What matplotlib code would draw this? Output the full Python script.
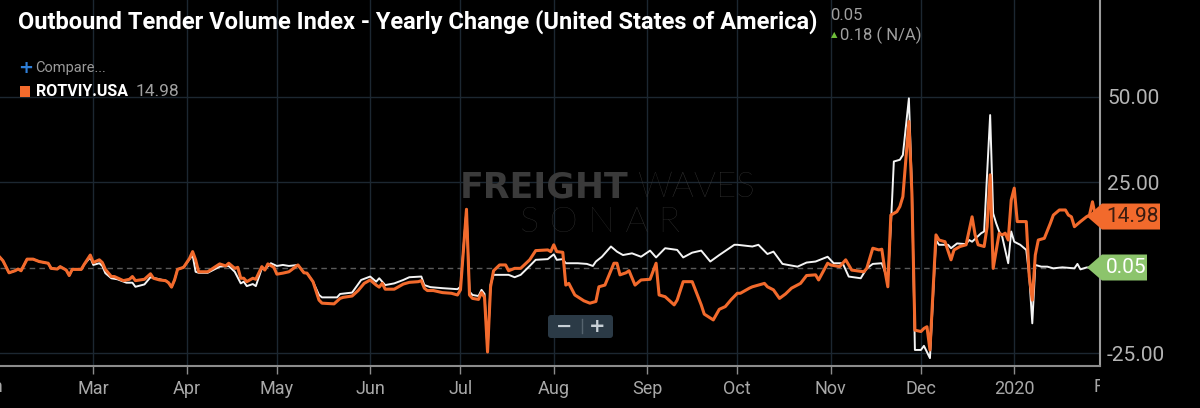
import pandas as pd
import matplotlib
matplotlib.use("Agg")
import matplotlib.pyplot as plt
from matplotlib.patches import Polygon, FancyBboxPatch
from matplotlib.transforms import IdentityTransform, Bbox, TransformedBbox

W, H = 1200, 408

title = "Outbound Tender Volume Index - Yearly Change (United States of America)"
ticker = "ROTVIY.USA"
start = pd.Timestamp("2019-01-29")

# ROTVIY.USA (orange): days after start, value
orange_days = [0, 1, 3, 5, 6, 7, 9, 11, 13, 16, 17, 19, 20, 22, 23, 24, 27, 28, 30, 31,
               33, 34, 35, 37, 38, 41, 43, 44, 45, 48, 50, 51, 53, 55, 56, 57, 58, 59, 61, 63,
               64, 65, 66, 69, 73, 75, 76, 78, 79, 80, 81, 82, 84, 85, 87, 88, 89, 91, 92, 94,
               96, 99, 101, 102, 104, 106, 107, 111, 113, 114, 117, 119, 121, 123, 125, 126, 127, 128, 131, 134,
               136, 139, 140, 141, 142, 144, 147, 150, 152, 153, 155, 156, 157, 159, 160, 161, 162, 163, 164, 166,
               168, 169, 171, 173, 176, 178, 182, 183, 184, 185, 187, 188, 189, 191, 194, 196, 198, 199, 201, 204,
               205, 206, 208, 209, 211, 213, 216, 218, 219, 221, 224, 225, 227, 230, 233, 234, 237, 239, 241, 243,
               245, 246, 249, 250, 254, 255, 257, 259, 261, 263, 266, 268, 271, 272, 275, 276, 279, 281, 283, 287,
               288, 290, 292, 293, 294, 295, 296, 298, 299, 300, 302, 303, 304, 306, 307, 308, 309, 311, 312, 314,
               316, 317, 319, 321, 323, 324, 325, 327, 328, 329, 330, 332, 333, 334, 335, 336, 337, 338, 341, 342,
               343, 344, 345, 347, 349, 350, 352, 354, 355, 356, 357, 359, 361, 362, 363, 364]
orange_vals = [3.0, 2.0, -1.5, -0.9, -0.4, -0.9, 2.5, 2.5, 1.8, 1.3, -0.2, -0.4, 0.3, -0.7, -2.3, -0.5, -0.5, 1.0, 3.7, 1.5,
               2.3, 1.5, -0.5, -2.6, -2.6, -3.8, -3.4, -2.6, -3.8, -3.4, -1.8, -3.1, -3.6, -3.8, -4.4, -5.7, -3.6, -0.5, 0.1, 2.75,
               4.7, 2.3, -1.2, -1.2, 1.1, 0.5, 1.3, -0.2, 0.1, -3.1, -3.1, -4.1, -3.1, -3.4, 0.3, -0.7, 1.1, 0.1, -1.9, -1.6,
               -1.2, 0.8, -1.5, -1.6, -4.1, -9.5, -10.4, -10.6, -9.0, -8.7, -8.3, -6.7, -4.6, -3.6, -5.1, -5.7, -4.6, -6.3, -6.3, -4.8,
               -4.3, -4.1, -3.8, -6.0, -6.7, -6.7, -7.3, -7.5, -8.0, -6.5, 17.1, -8.0, -9.0, -9.3, -7.3, -8.7, -24.7, -5.6, -0.9, 0.8,
               0.8, -0.9, -0.2, -0.2, 2.3, 5.0, 5.2, 4.7, 6.7, 4.7, 4.5, -5.1, -4.6, -8.0, -9.7, -10.4, -9.9, -5.6, -5.1, 1.3,
               1.3, -2.1, -1.5, -0.9, -5.1, -3.6, -3.4, 1.3, -8.0, -8.5, -10.9, -9.5, -4.1, -4.1, -10.9, -13.6, -15.3, -12.2, -11.4, -9.3,
               -7.5, -7.5, -6.0, -5.6, -4.6, -5.6, -6.5, -9.0, -7.7, -6.0, -4.6, -2.3, -2.1, -3.6, 1.3, 0.8, 0.3, 2.3, -0.7, -1.2,
               -0.2, 5.7, 5.2, 5.4, -0.7, -5.6, 15.4, 16.4, 17.9, 20.8, 42.8, 21.8, -18.3, -18.7, -17.8, -17.3, -24.1, 9.6, 8.1, 7.6,
               2.3, 5.2, 6.2, 6.7, 14.9, 9.6, 6.7, 6.2, 12.0, 27.2, -0.2, 10.1, 9.6, 10.1, 8.1, 19.8, 23.3, 13.5, 13.5, -2.6,
               -9.5, 3.7, 8.1, 8.6, 13.0, 15.4, 16.9, 16.9, 15.4, 14.9, 12.0, 13.5, 14.9, 15.4, 19.3, 14.98]

# second series (white)
white_days = [0, 1, 3, 5, 6, 7, 9, 11, 13, 16, 17, 19, 20, 22, 23, 24, 27, 28, 30, 31,
              33, 34, 35, 37, 39, 42, 44, 45, 48, 50, 53, 55, 56, 57, 58, 59, 61, 63, 64, 65,
              66, 69, 73, 76, 78, 80, 81, 82, 84, 85, 87, 88, 90, 92, 94, 96, 99, 101, 102, 104,
              106, 107, 112, 113, 117, 120, 123, 125, 126, 128, 131, 134, 136, 140, 141, 143, 147, 152, 153, 155,
              156, 157, 159, 160, 161, 162, 163, 164, 169, 171, 173, 176, 178, 182, 184, 185, 187, 188, 192, 195,
              197, 198, 200, 203, 205, 207, 210, 213, 216, 218, 221, 225, 227, 230, 233, 236, 239, 244, 245, 250,
              252, 255, 257, 260, 265, 268, 271, 275, 277, 280, 282, 286, 288, 290, 293, 295, 296, 297, 299, 300,
              302, 303, 304, 306, 307, 309, 311, 312, 315, 316, 318, 321, 322, 323, 326, 327, 329, 330, 331, 332,
              333, 335, 336, 337, 339, 341, 342, 343, 344, 346, 348, 350, 353, 357, 358, 359, 361, 364]
white_vals = [3.0, 2.0, -1.5, -0.9, -0.4, -0.9, 2.5, 2.5, 1.8, 1.3, -0.2, -0.4, 0.3, -0.7, -2.3, -0.5, -0.5, 1.0, 3.0, 0.8,
              1.3, 0.5, -1.6, -3.1, -3.4, -4.4, -4.4, -5.6, -4.9, -2.8, -3.4, -3.8, -4.4, -5.7, -3.6, -0.5, 0.1, 2.5, 3.7, -1.2,
              -1.5, -1.5, 0.3, 0.5, -1.2, -4.6, -4.1, -5.4, -4.8, -5.4, -0.2, -0.5, 1.3, 0.5, 0.8, 0.5, 0.8, -1.5, -1.6, -4.1,
              -8.0, -8.7, -8.7, -7.7, -7.3, -3.6, -2.6, -4.1, -3.1, -5.1, -4.6, -3.6, -2.8, -2.6, -5.1, -5.7, -6.0, -6.3, -5.6, 17.1,
              -7.0, -8.0, -8.3, -6.5, -7.7, -24.5, -5.0, -2.1, -2.1, -2.8, -2.1, 0.5, 2.3, 2.5, 3.9, 2.3, 2.5, 1.3, 1.3, 1.1,
              0.5, 1.8, 3.2, 6.2, 4.7, 3.7, 4.2, 3.2, 5.0, 3.0, 5.7, 5.2, 3.0, 4.4, 5.0, 1.8, 3.7, 6.7, 6.7, 6.2,
              6.7, 4.0, 4.7, 1.1, 0.3, 1.5, 1.8, 3.2, 1.3, 1.3, -2.6, -3.1, -0.2, 1.1, 1.3, -3.6, 12.0, 31.1, 31.6, 33.0,
              49.6, 23.7, -24.1, -24.1, -22.9, -26.5, 8.1, 6.7, 6.7, 5.7, 7.1, 6.9, 8.1, 7.6, 10.1, 10.6, 44.7, 15.9, 13.0, 10.6,
              9.1, 1.3, 10.6, 7.6, 6.7, 5.2, -2.6, -16.3, 0.8, 0.3, 0.3, -0.2, 0.1, -0.2, 1.1, -0.5, 0.05, 0.05]

month_ticks = pd.date_range("2019-03-01", "2020-01-01", freq="MS")
month_labels = ["Mar", "Apr", "May", "Jun", "Jul", "Aug", "Sep", "Oct", "Nov", "Dec", "2020"]
y_ticks = [-25, 25, 50]
last_orange = 14.98
last_white = 0.05
change = 0.18

ORANGE = "#f26a2c"
GREEN = "#8cc46c"
GREY = "#a8a8a8"
GRID = "#1c2731"


def fx(x):
    return x / W


def fy(y):
    return 1 - y / H


fig = plt.figure(figsize=(W / 100, H / 100), dpi=100, facecolor="black")
ax = fig.add_axes([0, 42 / H, 1100 / W, 366 / H])
ax.set_facecolor("black")
ax.set_axisbelow(True)

od = start + pd.to_timedelta(orange_days, unit="D")
wd = start + pd.to_timedelta(white_days, unit="D")
ax.plot(wd, white_vals, color="#f4f4f4", lw=1.4, zorder=3)
ax.plot(od, orange_vals, color=ORANGE, lw=2.2, zorder=4)
ax.axhline(last_white, color="#5a5a5a", lw=1.0, ls=(0, (4, 3)), zorder=2)

ax.set_xlim(start, start + pd.Timedelta(days=365.5))
ax.set_ylim(-28.8, 78.4)

ax.grid(True, color=GRID, lw=1.0)
for s in ["top", "left"]:
    ax.spines[s].set_visible(False)
ax.spines["bottom"].set_color("#8c8c8c")
ax.spines["bottom"].set_linewidth(1.5)
ax.spines["right"].set_color("#9c9c9c")
ax.spines["right"].set_linewidth(1.5)

ax.set_xticks(month_ticks)
ax.set_xticklabels(month_labels, family="Roboto")
ax.tick_params(axis="x", length=6, width=1, color="#8c8c8c", labelcolor=GREY,
               labelsize=13, pad=4)

ax.yaxis.tick_right()
ax.set_yticks(y_ticks)
ax.set_yticklabels([f"{v:.2f}" for v in y_ticks], family="Roboto")
ax.tick_params(axis="y", length=0, labelcolor="#b4b4b4", labelsize=15, pad=5)

# month labels cut by the edges, as in the source
fig.text(fx(-12), fy(387), "Jan", color=GREY, fontsize=13, family="Roboto",
         ha="center", va="center")
feb = fig.text(fx(1108), fy(387), "Feb", color=GREY, fontsize=13, family="Roboto",
               ha="center", va="center")
feb.set_clip_box(TransformedBbox(Bbox([[0, 0], [1100 / W, 1]]), fig.transFigure))
feb.set_clip_on(True)

# watermark
ax.text(628, H - 187, "FREIGHT", transform=IdentityTransform(), color="#3a3a3a",
        fontsize=25, weight="heavy", family="DejaVu Sans", ha="right", va="center", zorder=1)
ax.text(638, H - 187, "WAVES", transform=IdentityTransform(), color="#3a3a3a",
        fontsize=25, weight="light", family=["Lato", "DejaVu Sans"], ha="left", va="center", zorder=1)
ax.text(600, H - 222, "S O N A R", transform=IdentityTransform(), color="#353535",
        fontsize=26, weight="light", family=["Lato", "DejaVu Sans"], ha="center", va="center", zorder=1)


# last value tags on the right axis
def tag(val, label, face, tcolor, right):
    yd = ax.transData.transform((0, val))[1]
    tip, body, h = 1087, 1102, 13
    verts = [(tip, yd), (body, yd + h), (right, yd + h), (right, yd - h), (body, yd - h)]
    fig.add_artist(Polygon(verts, closed=True, transform=IdentityTransform(),
                           fc=face, ec="none", zorder=5))
    fig.text((body + right) / 2 + 2, yd, label, transform=IdentityTransform(), color=tcolor,
             fontsize=15, family="Roboto", ha="center", va="center", zorder=6)


tag(last_orange, f"{last_orange:.2f}", ORANGE, "#3a1c10", 1160)
tag(last_white, f"{last_white:.2f}", GREEN, "white", 1147)

# zoom control
fig.add_artist(FancyBboxPatch((548, H - 338), 65, 23, boxstyle="round,pad=0,rounding_size=3",
                              transform=IdentityTransform(), fc="#2b3a46", ec="none", zorder=5))
fig.text(fx(564), fy(326), "\u2212", color="#c8d0d6", fontsize=14, weight="bold",
         ha="center", va="center", zorder=6)
fig.text(fx(597), fy(326), "+", color="#c8d0d6", fontsize=14, weight="bold",
         ha="center", va="center", zorder=6)
fig.add_artist(plt.Line2D([fx(582), fx(582)], [fy(319), fy(333)], color="#55636e", lw=1,
                          transform=fig.transFigure, zorder=6))

# header texts
fig.text(fx(18), fy(22), title, color="white", fontsize=17, weight="bold",
         family=["Liberation Sans Narrow", "Roboto"], ha="left", va="center")
fig.text(fx(18), fy(68), "+", color="#2f7fd8", fontsize=13, weight="bold", ha="left", va="center")
fig.text(fx(35), fy(68), "Compare...", color="#9a9a9a", fontsize=10.5, family="Roboto",
         ha="left", va="center")
fig.add_artist(plt.Rectangle((fx(20), fy(97)), 10 / W, 11 / H, transform=fig.transFigure,
                             fc=ORANGE, ec="none"))
fig.text(fx(36), fy(91), ticker, color="white", fontsize=11.5, weight="bold",
         family=["Liberation Sans Narrow", "Roboto"], ha="left", va="center")
fig.text(fx(136), fy(91), f"{last_orange:.2f}", color="#a0a0a0", fontsize=12.5, family="Roboto",
         ha="left", va="center")
fig.text(fx(830), fy(15), f"{last_white:.2f}", color="#a0a0a0", fontsize=12, family="Roboto",
         ha="left", va="center")
fig.text(fx(831), fy(35), "\u25b2", color="#6fbf3a", fontsize=6, family="DejaVu Sans",
         ha="left", va="center")
fig.text(fx(840), fy(35), f"{change:.2f} ( N/A)", color="#a0a0a0", fontsize=12, family="Roboto",
         ha="left", va="center")

fig.savefig("out.png", dpi=100, facecolor="black")
